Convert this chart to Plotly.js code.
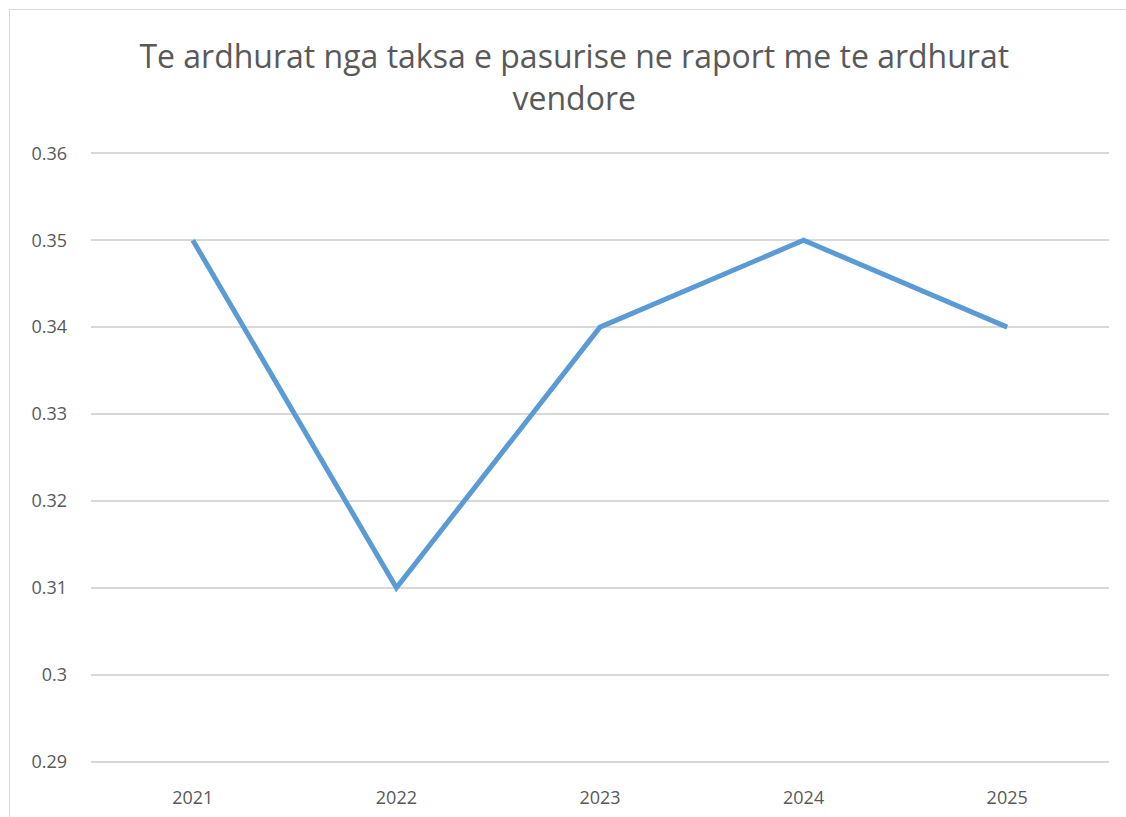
<!DOCTYPE html>
<html>
<head>
<meta charset="utf-8">
<script src="https://cdn.plot.ly/plotly-3.0.1.min.js"></script>
<style>
  html, body { margin: 0; padding: 0; background: #fff; overflow: hidden; }
  #chart { width: 1126px; height: 817px; position: absolute; left: 0; top: 0; }
  #frame { position: absolute; left: 9px; top: 9px; width: 1140px; height: 840px;
           border: 1.5px solid #d9d9d9; box-sizing: border-box; pointer-events: none; }
</style>
</head>
<body>
<div id="chart"></div>
<div id="frame"></div>
<script>
const years = ["2021", "2022", "2023", "2024", "2025"];
const ratio = [0.35, 0.31, 0.34, 0.35, 0.34];
const yTicks = [0.29, 0.30, 0.31, 0.32, 0.33, 0.34, 0.35, 0.36];
const yTickLabels = ["0.29", "0.3", "0.31", "0.32", "0.33", "0.34", "0.35", "0.36"];

const fontFam = "Open Sans, DejaVu Sans, sans-serif";
const trace = {
  x: years,
  y: ratio,
  type: "scatter",
  mode: "lines",
  line: { color: "#5B9BD5", width: 5 },
  hoverinfo: "x+y"
};

const layout = {
  width: 1126,
  height: 817,
  paper_bgcolor: "#ffffff",
  plot_bgcolor: "#ffffff",
  margin: { l: 91, r: 17, t: 152, b: 54 },
  showlegend: false,
  title: {
    text: "Te ardhurat nga taksa e pasurise ne raport me te ardhurat<br>vendore",
    font: { family: fontFam, size: 32, color: "#595959" },
    x: 0.51, xanchor: "center",
    y: 0.9165, yanchor: "top"
  },
  xaxis: {
    type: "category",
    range: [-0.5, 4.5],
    showgrid: false,
    zeroline: false,
    showline: false,
    ticks: "",
    tickfont: { family: fontFam, size: 18, color: "#595959" },
    ticklabelstandoff: 22
  },
  yaxis: {
    range: [0.28985, 0.36015],
    tickvals: yTicks,
    ticktext: yTickLabels,
    showgrid: true,
    gridcolor: "#d9d9d9",
    gridwidth: 1.5,
    zeroline: false,
    showline: false,
    ticks: "",
    tickfont: { family: fontFam, size: 18, color: "#595959" },
    ticklabelstandoff: 23
  }
};

Plotly.newPlot("chart", [trace], layout, { displayModeBar: false });
</script>
</body>
</html>
